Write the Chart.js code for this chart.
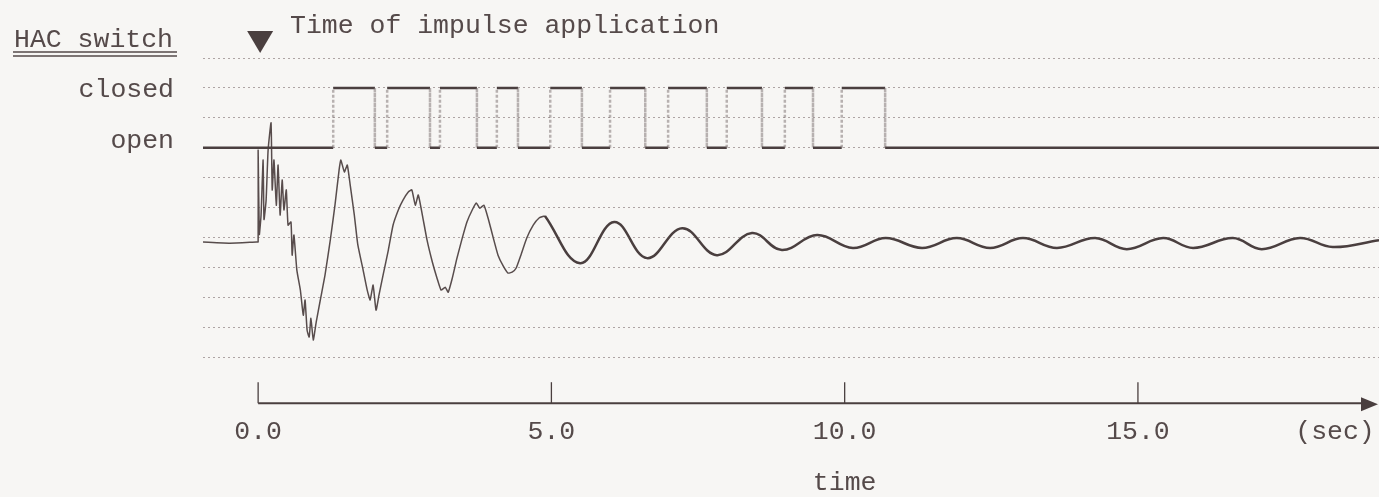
<!DOCTYPE html>
<html>
<head>
<meta charset="utf-8">
<script src="https://cdn.jsdelivr.net/npm/chart.js@4.4.0/dist/chart.umd.min.js"></script>
<style>
  html, body { margin: 0; padding: 0; background: #f7f6f4; }
  #wrap { width: 1379px; height: 497px; position: relative; }
</style>
</head>
<body>
<div id="wrap"><canvas id="chart"></canvas></div>
<script>
// time axis (sec)
const X_MIN = -0.94;
const X_MAX = 19.11;
const X_TICKS = [0, 5, 10, 15];
const SEC_LABEL_AT = 18.36;

// HAC switch: levels and edge times (starts open, alternates)
const OPEN_LEVEL = 7;
const CLOSED_LEVEL = 9;
const SWITCH_EDGES = [1.28, 1.99, 2.20, 2.93, 3.10, 3.73, 4.07, 4.43, 4.98, 5.52,
  6.00, 6.60, 6.99, 7.65, 7.99, 8.59, 8.98, 9.46, 9.95, 10.69];

// response, transient part
const TRANSIENT_T = [-0.94, -0.48, -0.03, 0.00, 0.00, 0.02, 0.05, 0.085, 0.10, 0.136,
  0.17, 0.22, 0.24, 0.27, 0.31, 0.34, 0.375, 0.41, 0.44, 0.48,
  0.51, 0.56, 0.58, 0.61, 0.66, 0.72, 0.77, 0.80, 0.835, 0.87,
  0.90, 0.94, 0.99, 1.06, 1.14, 1.23, 1.31, 1.38, 1.41, 1.47,
  1.52, 1.57, 1.64, 1.70, 1.79, 1.86, 1.91, 1.96, 2.01, 2.06,
  2.13, 2.22, 2.30, 2.39, 2.47, 2.56, 2.62, 2.68, 2.73, 2.80,
  2.88, 2.97, 3.05, 3.12, 3.19, 3.24, 3.31, 3.39, 3.48, 3.56,
  3.65, 3.72, 3.78, 3.85, 3.92, 4.01, 4.09, 4.18, 4.26, 4.33,
  4.40, 4.48, 4.58, 4.69, 4.79, 4.89];
const TRANSIENT_V = [3.85, 3.81, 3.85, 3.85, 6.92, 4.10, 4.75, 6.59, 4.60, 5.25,
  6.92, 7.83, 5.59, 6.59, 5.08, 6.42, 4.75, 5.92, 4.92, 5.59,
  4.41, 4.52, 3.41, 4.08, 2.91, 2.24, 1.40, 1.91, 0.90, 0.67,
  1.30, 0.57, 1.17, 1.91, 2.74, 3.91, 5.08, 6.25, 6.59, 6.19,
  6.42, 5.75, 4.75, 3.75, 2.91, 2.24, 1.91, 2.41, 1.57, 2.07,
  2.74, 3.58, 4.41, 4.92, 5.25, 5.52, 5.59, 5.08, 5.42, 4.75,
  3.91, 3.18, 2.64, 2.24, 2.34, 2.17, 2.64, 3.31, 3.98, 4.52,
  4.92, 5.15, 4.98, 5.08, 4.65, 3.98, 3.41, 3.04, 2.81, 2.84,
  2.98, 3.41, 3.98, 4.41, 4.65, 4.72];

// response, settled part (peaks and troughs)
const STEADY_T = [4.89, 5.49, 6.07, 6.63, 7.23, 7.82, 8.42, 8.93, 9.53, 10.14,
  10.70, 11.32, 11.91, 12.48, 13.04, 13.62, 14.27, 14.81, 15.43, 15.94,
  16.62, 17.11, 17.76, 18.32, 19.11];
const STEADY_V = [4.72, 3.14, 4.52, 3.31, 4.31, 3.41, 4.15, 3.58, 4.08, 3.65,
  3.98, 3.65, 3.98, 3.65, 3.98, 3.65, 3.98, 3.61, 3.98, 3.65,
  3.98, 3.61, 3.98, 3.68, 3.91];

const INK = "#4a3f3f";
const TEXT = "#554a4a";
const FONT = "26.5px 'Liberation Mono', monospace";

function zip(ts, vs) {
  return ts.map((t, i) => ({ x: t, y: vs[i] }));
}

function switchPoints() {
  const pts = [{ x: X_MIN, y: OPEN_LEVEL }];
  let level = OPEN_LEVEL;
  SWITCH_EDGES.forEach((t) => {
    const next = level === OPEN_LEVEL ? CLOSED_LEVEL : OPEN_LEVEL;
    pts.push({ x: t, y: level });
    pts.push({ x: t, y: next });
    level = next;
  });
  pts.push({ x: X_MAX, y: level });
  return pts;
}

const isVertical = (c) => c.p0.parsed.x === c.p1.parsed.x;

const overlay = {
  id: "overlay",
  afterDraw(chart) {
    const { ctx, chartArea, scales } = chart;
    const x = scales.x;
    const y = scales.y;
    const x0 = x.getPixelForValue(0);
    const bottom = chartArea.bottom;
    const right = chart.width;

    ctx.save();
    // time axis with arrow
    ctx.strokeStyle = INK;
    ctx.fillStyle = INK;
    ctx.lineWidth = 2;
    ctx.beginPath();
    ctx.moveTo(x0, bottom);
    ctx.lineTo(right - 10, bottom);
    ctx.stroke();
    ctx.beginPath();
    ctx.moveTo(right - 1, bottom + 1);
    ctx.lineTo(right - 18, bottom - 6);
    ctx.lineTo(right - 18, bottom + 8);
    ctx.closePath();
    ctx.fill();

    ctx.lineWidth = 1.3;
    X_TICKS.forEach((v) => {
      const px = x.getPixelForValue(v);
      ctx.beginPath();
      ctx.moveTo(px, bottom - 21);
      ctx.lineTo(px, bottom);
      ctx.stroke();
    });

    // impulse marker
    ctx.beginPath();
    ctx.moveTo(x0 - 11, 31);
    ctx.lineTo(x0 + 15, 31);
    ctx.lineTo(x0 + 2, 53);
    ctx.closePath();
    ctx.fill();

    ctx.font = FONT;
    ctx.fillStyle = TEXT;
    ctx.textBaseline = "alphabetic";
    ctx.textAlign = "left";
    ctx.fillText("Time of impulse application", 290, 33);
    ctx.fillText("HAC switch", 14, 47);

    ctx.strokeStyle = TEXT;
    ctx.lineWidth = 1.4;
    [52, 56].forEach((uy) => {
      ctx.beginPath();
      ctx.moveTo(13, uy);
      ctx.lineTo(177, uy);
      ctx.stroke();
    });

    ctx.textAlign = "right";
    ctx.fillText("closed", 174, y.getPixelForValue(CLOSED_LEVEL) + 9);
    ctx.fillText("open", 174, y.getPixelForValue(OPEN_LEVEL));

    ctx.textAlign = "center";
    ctx.fillText("time", x.getPixelForValue(10), 490);
    ctx.textBaseline = "middle";
    ctx.fillText("(sec)", x.getPixelForValue(SEC_LABEL_AT), bottom + 29);
    ctx.restore();
  }
};

new Chart(document.getElementById("chart"), {
  type: "line",
  data: {
    datasets: [
      {
        label: "HAC switch",
        data: switchPoints(),
        borderColor: INK,
        borderWidth: 2.5,
        pointRadius: 0,
        tension: 0,
        segment: {
          borderColor: (c) => (isVertical(c) ? "rgba(120,108,108,0.5)" : undefined),
          borderDash: (c) => (isVertical(c) ? [3, 2] : undefined)
        }
      },
      {
        label: "response (transient)",
        data: zip(TRANSIENT_T, TRANSIENT_V),
        borderColor: "rgba(70,58,58,0.9)",
        borderWidth: 1.5,
        pointRadius: 0,
        tension: 0.15
      },
      {
        label: "response",
        data: zip(STEADY_T, STEADY_V),
        borderColor: INK,
        borderWidth: 2.5,
        pointRadius: 0,
        tension: 0.4
      }
    ]
  },
  options: {
    responsive: true,
    maintainAspectRatio: false,
    animation: false,
    layout: { padding: { left: 203, top: 58, right: 0, bottom: 36 } },
    plugins: {
      legend: { display: false },
      tooltip: { enabled: false }
    },
    scales: {
      x: {
        type: "linear",
        min: X_MIN,
        max: X_MAX,
        afterBuildTicks: (scale) => {
          scale.ticks = X_TICKS.map((v) => ({ value: v }));
        },
        ticks: {
          autoSkip: false,
          maxRotation: 0,
          padding: 13,
          color: TEXT,
          font: { family: "'Liberation Mono', monospace", size: 26.5 },
          callback: (value) => value.toFixed(1)
        },
        grid: { display: false, drawTicks: false },
        border: { display: false }
      },
      y: {
        min: -1.54,
        max: 10,
        ticks: { display: false, stepSize: 1 },
        grid: {
          drawTicks: false,
          lineWidth: 1,
          color: (c) => (c.tick && c.tick.value >= 0 && Number.isInteger(c.tick.value)
            ? "rgba(150,138,138,0.75)" : "rgba(0,0,0,0)")
        },
        border: { display: false, dash: [2, 3] }
      }
    }
  },
  plugins: [overlay]
});
</script>
</body>
</html>
